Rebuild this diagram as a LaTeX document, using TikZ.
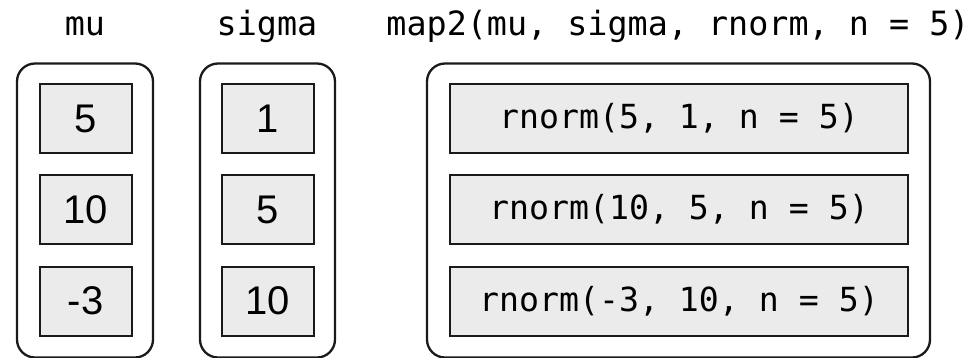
\documentclass[tikz,border=0pt]{standalone}
\usepackage{fontspec}
\setmainfont{Liberation Sans}
\newfontfamily\codefont{DejaVu Sans Mono}
\definecolor{cellgray}{HTML}{EBEBEB}
\definecolor{ink}{HTML}{1A1A1A}
\begin{document}
\begin{tikzpicture}[x=1pt,y=-1pt,
  frame/.style={draw=ink, line width=2.3pt, rounded corners=18pt, inner sep=0pt,
    minimum height=294pt},
  cell/.style={draw=ink, line width=2pt, fill=cellgray, inner sep=0pt,
    minimum height=69pt, font=\fontsize{40}{40}\selectfont},
  numcell/.style={cell, minimum width=92pt},
  codecell/.style={cell, minimum width=458pt, font=\codefont\fontsize{33.2}{34}\selectfont},
  title/.style={anchor=base, inner sep=0pt, font=\codefont\fontsize{33.4}{34}\selectfont}]
\useasboundingbox (0,0) rectangle (972,357);

% column titles
\node[title] (tmu) at (85,35) {mu};
\node[title] (tsigma) at (267,35) {sigma};
\node[title] (tmap) at (678,35) {map2(mu, sigma, rnorm, n = 5)};

% outer frames (their lower edge runs off the page)
\node[frame, minimum width=136pt] (fmu) at (85,210.5) {};
\node[frame, minimum width=135pt] (fsigma) at (267.5,210.5) {};
\node[frame, minimum width=503pt] (fmap) at (678.5,210.5) {};

% mu values
\node[numcell] (mu1) at (85.5,118.5) {5};
\node[numcell] (mu2) at (85.5,209.5) {10};
\node[numcell] (mu3) at (85.5,301) {-3};

% sigma values
\node[numcell] (s1) at (268,118.5) {1};
\node[numcell] (s2) at (268,209.5) {5};
\node[numcell] (s3) at (268,301) {10};

% results of map2
\node[codecell] (r1) at (679,118.5) {rnorm(5, 1, n = 5)};
\node[codecell] (r2) at (679,209.5) {rnorm(10, 5, n = 5)};
\node[codecell] (r3) at (679,301) {rnorm(-3, 10, n = 5)};
\end{tikzpicture}
\end{document}
